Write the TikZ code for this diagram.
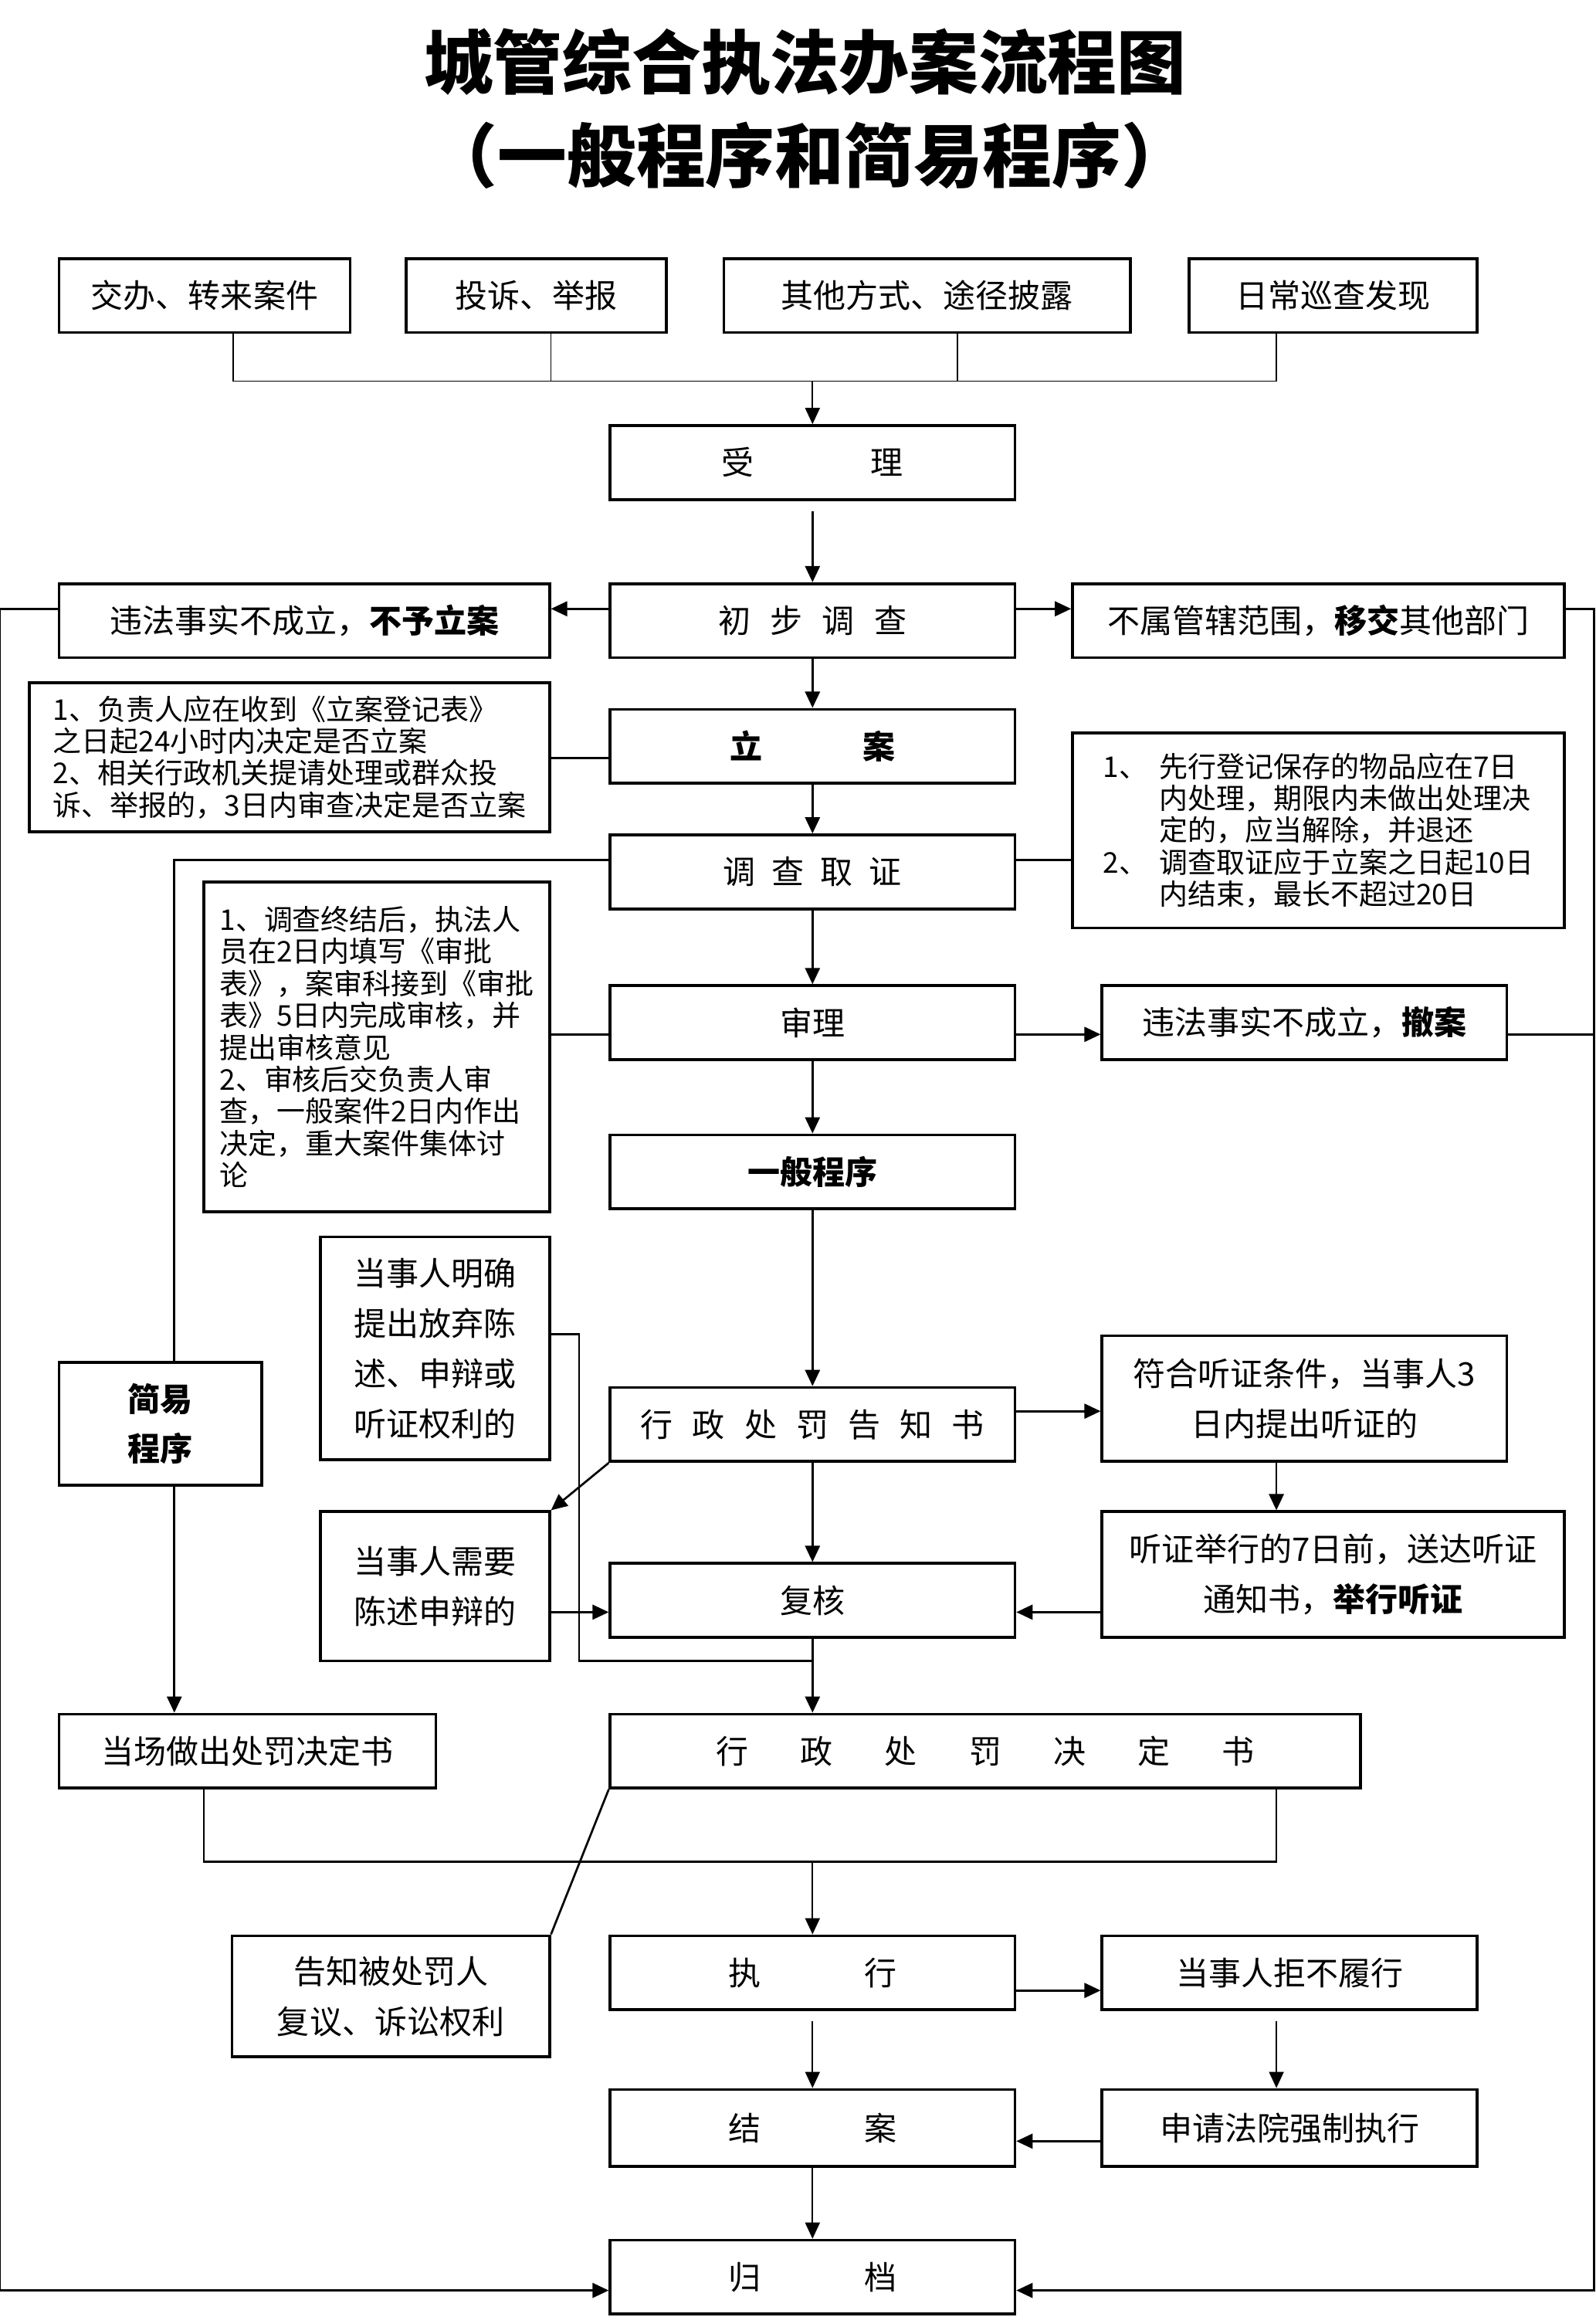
\documentclass[tikz,border=0pt]{standalone}
\usepackage{fontspec}
\setmainfont{Noto Sans CJK SC}
\usetikzlibrary{
	arrows.meta,
	calc,
}

\newdimen\px
\px=0.02cm
\newcommand{\titlefont}{\fontsize{26.7pt}{30pt}\selectfont\bfseries}
\newcommand{\boxfont}{\fontsize{12.5pt}{19.3pt}\selectfont}
\newcommand{\notefont}{\fontsize{11pt}{12.3pt}\selectfont}

\tikzset{
	box/.style={draw, line width=1.1pt, inner sep=0pt, minimum height=50\px, font=\boxfont, align=center},
	note/.style={draw, line width=1.1pt, inner sep=0pt, font=\notefont, align=left},
	link/.style={line width=0.8pt},
	thinlink/.style={line width=0.5pt},
	arr/.style={line width=0.8pt, -{Triangle[length=0.22cm, width=0.2cm]}},
}

\begin{document}
\begin{tikzpicture}[x=0.02cm, y=-0.02cm]
	\useasboundingbox (0,0) rectangle (1080,1568);
	% title
	\node[font=\titlefont] (title) at (545,42) {城管综合执法办案流程图};
	\node[font=\titlefont] (subtitle) at (548,105) {（一般程序和简易程序）};
	% case sources
	\node[box, minimum width=197\px] (src1) at (138.5,200) {交办、转来案件};
	\node[box, minimum width=176\px] (src2) at (363,200) {投诉、举报};
	\node[box, minimum width=275\px] (src3) at (627.5,200) {其他方式、途径披露};
	\node[box, minimum width=195\px] (src4) at (902.5,200) {日常巡查发现};
	\coordinate (bus) at (550,258);
	% main column
	\node[box, minimum width=274\px] (accept) at (550,313) {受\hspace{3.6em}理};
	\node[box, minimum width=274\px] (survey) at (550,420) {初\hspace{0.6em}步\hspace{0.6em}调\hspace{0.6em}查};
	\node[box, minimum width=274\px] (filing) at (550,505) {\textbf{立\hspace{3.1em}案}};
	\node[box, minimum width=274\px] (invest) at (550,590) {调\hspace{0.5em}查\hspace{0.5em}取\hspace{0.5em}证};
	\node[box, minimum width=274\px] (review) at (550,692) {审理};
	\node[box, minimum width=274\px] (general) at (550,793) {\textbf{一般程序}};
	\node[box, minimum width=274\px] (notice) at (550,964) {行\hspace{0.6em}政\hspace{0.6em}处\hspace{0.6em}罚\hspace{0.6em}告\hspace{0.6em}知\hspace{0.6em}书};
	\node[box, minimum width=274\px] (recheck) at (550,1083) {复核};
	\node[box, minimum width=508\px] (decision) at (667,1185) {行\hspace{1.6em}政\hspace{1.6em}处\hspace{1.6em}罚\hspace{1.6em}决\hspace{1.6em}定\hspace{1.6em}书};
	\node[box, minimum width=274\px] (execute) at (550,1335) {执\hspace{3.2em}行};
	\node[box, minimum width=274\px, minimum height=52\px] (close) at (550,1440) {结\hspace{3.2em}案};
	\node[box, minimum width=274\px, minimum height=50\px] (archive) at (550,1541) {归\hspace{3.2em}档};
	% side boxes
	\node[box, minimum width=332\px] (reject) at (206,420) {违法事实不成立，\textbf{不予立案}};
	\node[box, minimum width=333\px] (transfer) at (892.5,420) {不属管辖范围，\textbf{移交}其他部门};
	\node[box, minimum width=274\px] (withdraw) at (883,692) {违法事实不成立，\textbf{撤案}};
	\node[box, minimum width=155\px, minimum height=151\px] (waive) at (294.5,912.5) {当事人明确\\提出放弃陈\\述、申辩或\\听证权利的};
	\node[box, minimum width=137\px, minimum height=83\px] (simple) at (108.5,963.5) {\textbf{简易}\\\textbf{程序}};
	\node[box, minimum width=274\px, minimum height=85\px] (hearreq) at (883,946.5) {符合听证条件，当事人3\\日内提出听证的};
	\node[box, minimum width=313\px, minimum height=85\px] (hearing) at (902.5,1065.5) {听证举行的7日前，送达听证\\通知书，\textbf{举行听证}};
	\node[box, minimum width=155\px, minimum height=101\px] (defend) at (294.5,1073.5) {当事人需要\\陈述申辩的};
	\node[box, minimum width=255\px] (spot) at (167.5,1185) {当场做出处罚决定书};
	\node[box, minimum width=215\px, minimum height=82\px] (inform) at (264.5,1351) {告知被处罚人\\复议、诉讼权利};
	\node[box, minimum width=254\px] (refuse) at (873,1335) {当事人拒不履行};
	\node[box, minimum width=254\px, minimum height=52\px] (court) at (873,1440) {申请法院强制执行};
	% notes
	\node[note, minimum width=352\px, minimum height=101\px] (filenote) at (196,512.5) {1、负责人应在收到《立案登记表》\\之日起24小时内决定是否立案\\2、相关行政机关提请处理或群众投\\诉、举报的，3日内审查决定是否立案};
	\node[note, minimum width=333\px, minimum height=132\px] (investnote) at (892.5,562) {\makebox[38\px][l]{1、}先行登记保存的物品应在7日\\\hspace*{38\px}内处理，期限内未做出处理决\\\hspace*{38\px}定的，应当解除，并退还\\\makebox[38\px][l]{2、}调查取证应于立案之日起10日\\\hspace*{38\px}内结束，最长不超过20日};
	\node[note, minimum width=234\px, minimum height=223\px] (reviewnote) at (255,708.5) {1、调查终结后，执法人\\员在2日内填写《审批\\表》，案审科接到《审批\\表》5日内完成审核，并\\提出审核意见\\2、审核后交负责人审\\查，一般案件2日内作出\\决定，重大案件集体讨\\论};
	\coordinate (merge) at (550,1124);
	\coordinate (join) at (550,1260);

	% sources to accept
	\draw[thinlink] ([xshift=19.5\px]src1.south) |- (bus) -| ([xshift=-38.5\px]src4.south);
	\draw[thinlink] ([xshift=10\px]src2.south) -- ([xshift=10\px]src2.south |- bus);
	\draw[thinlink] ([xshift=20.5\px]src3.south) -- ([xshift=20.5\px]src3.south |- bus);
	\draw[arr, line width=0.5pt] (bus) -- (accept);
	\draw[arr, shorten <=7\px] (accept) -- (survey);
	\draw[arr] ([yshift=8\px]survey.west) -- ([yshift=8\px]survey.west -| reject.east);
	\draw[arr] ([yshift=8\px]survey.east) -- ([yshift=8\px]survey.east -| transfer.west);
	\draw[arr] (survey) -- (filing);
	\draw[link] ([yshift=-8\px]filing.west) -- ([yshift=-8\px]filing.west -| filenote.east);
	\draw[arr] (filing) -- (invest);
	\draw[link] ([yshift=8\px]invest.east) -- ([yshift=8\px]invest.east -| investnote.west);
	\draw[link] ([yshift=8\px]invest.west) -| ([xshift=9.5\px]simple.north);
	\draw[arr] (invest) -- (review);
	\draw[link] ([yshift=-8\px]review.west) -- ([yshift=-8\px]review.west -| reviewnote.east);
	\draw[arr] ([yshift=-8\px]review.east) -- ([yshift=-8\px]review.east -| withdraw.west);
	\draw[link] ([yshift=-8\px]withdraw.east) -- ++(58,0);
	\draw[arr] (review) -- (general);
	\draw[arr] (general) -- (notice);
	% hearing branch
	\draw[arr] ([yshift=9\px]notice.east) -- ([yshift=9\px]notice.east -| hearreq.west);
	\draw[arr] ([xshift=-19\px]hearreq.south) -- ([xshift=-19\px]hearreq.south |- hearing.north);
	\draw[arr] ([yshift=-8\px]recheck.east -| hearing.west) -- ([yshift=-8\px]recheck.east);
	\draw[arr] (notice.south west) -- (defend.north east);
	\draw[arr] ([yshift=-8\px]recheck.west -| defend.east) -- ([yshift=-8\px]recheck.west);
	\draw[arr] (notice) -- (recheck);
	\draw[link] ([yshift=9.5\px]waive.east) -- ++(19,0) |- (merge);
	\draw[arr] (recheck.south) -- (recheck.south |- decision.north);
	% simple procedure
	\draw[arr] ([xshift=9.5\px]simple.south) -- ([xshift=9.5\px]simple.south |- spot.north);
	\draw[link] ([xshift=-29.5\px]spot.south) |- (join) -| ([xshift=197\px]decision.south);
	\draw[link] (decision.south west) -- (inform.north east);
	% execution
	\draw[arr, line width=0.5pt] (join) -- (execute);
	\draw[arr] ([yshift=-12\px]execute.east) -- ([yshift=-12\px]execute.east -| refuse.west);
	\draw[arr, line width=0.5pt, shorten <=7\px] (execute) -- (close);
	\draw[arr, line width=0.5pt, shorten <=7\px] ([xshift=-9\px]refuse.south) -- ([xshift=-9\px]refuse.south |- court.north);
	\draw[arr] ([yshift=-9\px]court.west) -- ([yshift=-9\px]court.west -| close.east);
	\draw[arr, line width=0.5pt] (close) -- (archive);
	% outer rails
	\draw[arr] ([yshift=8\px]reject.west) -- ++(-39,0) |- ([yshift=-9\px]archive.west);
	\draw[arr] ([yshift=8\px]transfer.east) -- ++(19,0) |- ([yshift=-9\px]archive.east);
\end{tikzpicture}
\end{document}
